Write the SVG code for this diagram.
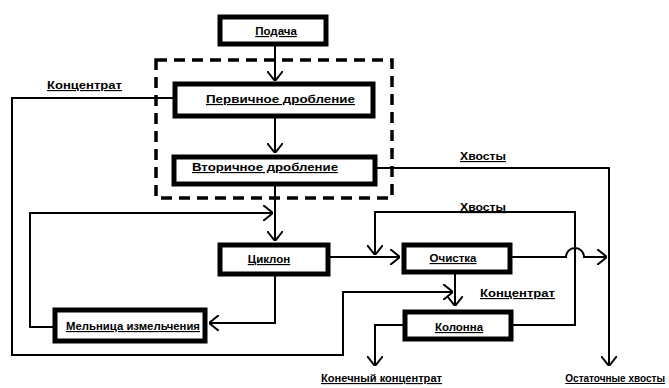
<svg xmlns="http://www.w3.org/2000/svg" width="669" height="388" viewBox="0 0 669 388">
<style>
.box{fill:#fff;stroke:#000;stroke-width:5}
.ln{fill:none;stroke:#000;stroke-width:2}
.t{font-family:"Liberation Sans",Arial,sans-serif;font-weight:bold;font-size:11.5px;text-decoration:underline;fill:#000}
.m{text-anchor:middle}
</style>
<defs>
<marker id="a" viewBox="0 0 10 16" refX="10" refY="8" markerWidth="10" markerHeight="16" markerUnits="userSpaceOnUse" orient="auto">
<path d="M0,0 L10,8 L0,16" fill="none" stroke="#000" stroke-width="2"/>
</marker>
</defs>
<rect width="669" height="388" fill="#fff"/>
<g id="dashed-group">
<rect x="156" y="60" width="236" height="138" fill="none" stroke="#000" stroke-width="3.5" stroke-dasharray="11,7"/>
</g>
<g id="connectors">
<path class="ln" d="M275,45 V81" marker-end="url(#a)"/>
<path class="ln" d="M275,117 V153" marker-end="url(#a)"/>
<path class="ln" d="M275,185 V241" marker-end="url(#a)"/>
<path class="ln" d="M53,327 H30 V213 H273" marker-end="url(#a)"/>
<path class="ln" d="M275,276 V323 H209" marker-end="url(#a)"/>
<path class="ln" d="M173,98 H12 V355 H343 V292 H453" marker-end="url(#a)"/>
<path class="ln" d="M377,168 H609 V366" marker-end="url(#a)"/>
<path class="ln" d="M330,257 H400" marker-end="url(#a)"/>
<path class="ln" d="M513,325 H575 V212 H375 V255" marker-end="url(#a)"/>
<path class="ln" d="M512,257 H566 A9,9 0 0 1 584,257 H607" marker-end="url(#a)"/>
<path class="ln" d="M455,274 V306" marker-end="url(#a)"/>
<path class="ln" d="M403,325 H375 V366" marker-end="url(#a)"/>
</g>
<g id="podacha"><rect class="box" x="220" y="17" width="106" height="27"/><text class="t m" x="276" y="35">Подача</text></g>
<g id="pervichnoe"><rect class="box" x="175" y="84" width="198" height="32"/><text class="t" x="206" y="103" textLength="149" lengthAdjust="spacingAndGlyphs">Первичное дробление</text></g>
<g id="vtorichnoe"><rect class="box" x="174" y="157" width="201" height="27"/><text class="t" x="192" y="171" textLength="146" lengthAdjust="spacingAndGlyphs">Вторичное дробление</text></g>
<g id="ciklon"><rect class="box" x="220" y="245" width="108" height="29"/><text class="t m" x="269" y="263">Циклон</text></g>
<g id="ochistka"><rect class="box" x="404" y="245" width="106" height="27"/><text class="t m" x="453" y="262">Очистка</text></g>
<g id="kolonna"><rect class="box" x="405" y="312" width="106" height="27"/><text class="t m" x="459" y="331">Колонна</text></g>
<g id="melnica"><rect class="box" x="55" y="310" width="150" height="31"/><text class="t" x="66" y="330" textLength="134" lengthAdjust="spacingAndGlyphs">Мельница измельчения</text></g>
<g id="labels">
<text class="t" x="47" y="89" textLength="75" lengthAdjust="spacingAndGlyphs">Концентрат</text>
<text class="t" x="460" y="160" textLength="46" lengthAdjust="spacingAndGlyphs">Хвосты</text>
<text class="t" x="460" y="211" textLength="46" lengthAdjust="spacingAndGlyphs">Хвосты</text>
<text class="t" x="480" y="297" textLength="75" lengthAdjust="spacingAndGlyphs">Концентрат</text>
<text class="t" x="321" y="382" textLength="121" lengthAdjust="spacingAndGlyphs">Конечный концентрат</text>
<text class="t" x="665" y="382" text-anchor="end" style="font-size:10px">Остаточные хвосты</text>
</g>
</svg>
